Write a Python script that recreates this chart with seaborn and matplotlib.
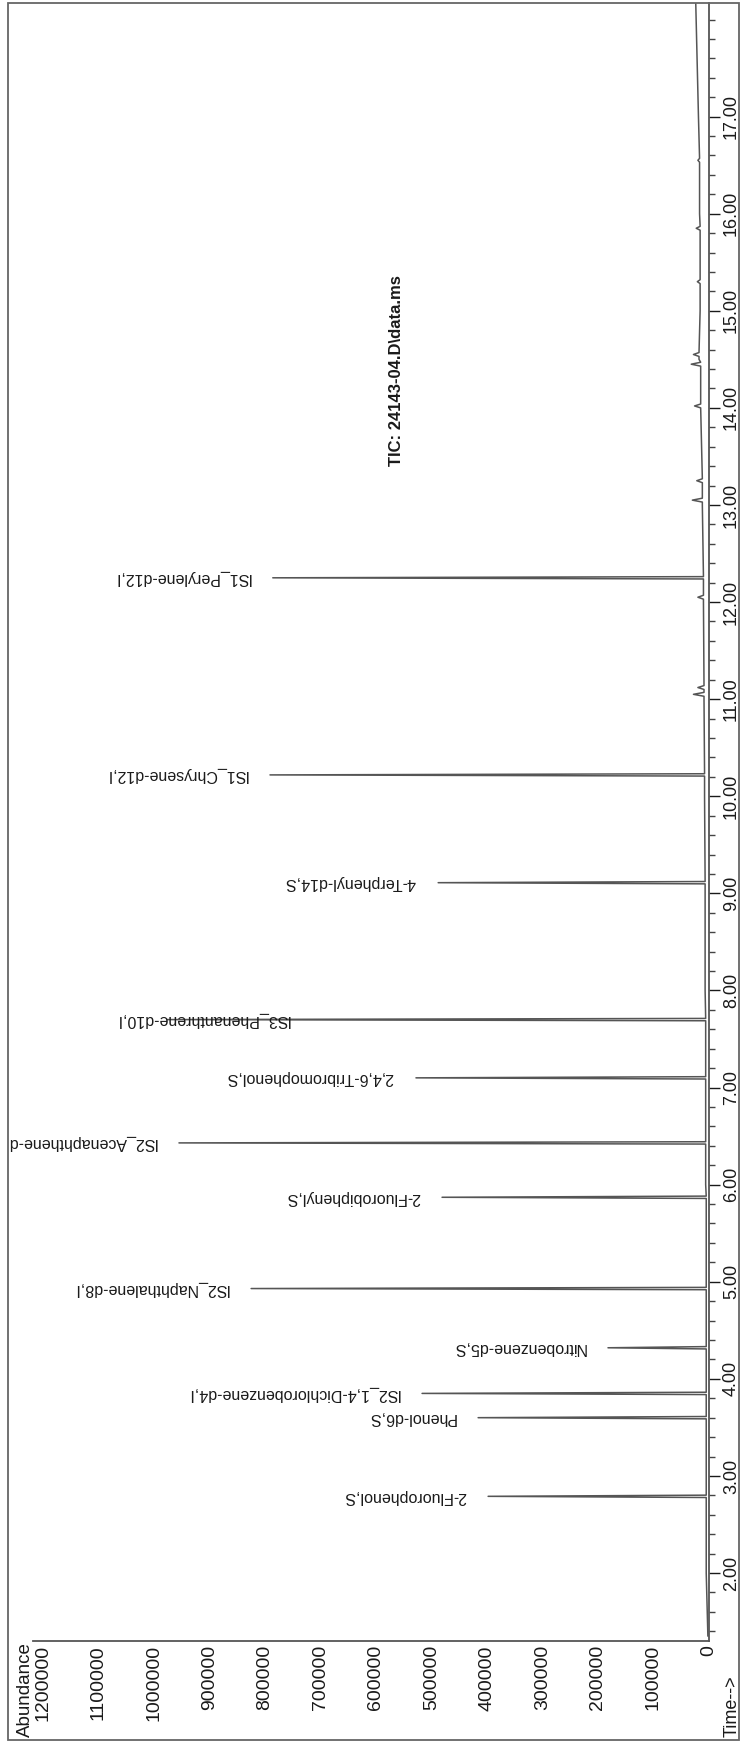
import matplotlib
matplotlib.use("Agg")
import matplotlib.pyplot as plt
import seaborn as sns
from matplotlib.ticker import MultipleLocator
from matplotlib.patches import Rectangle
from matplotlib.transforms import Bbox, TransformedBbox

# peaks (retention time in min, abundance)
peak_names = ["2-Fluorophenol,S", "Phenol-d6,S", "IS2_1,4-Dichlorobenzene-d4,I",
              "Nitrobenzene-d5,S", "IS2_Naphthalene-d8,I", "2-Fluorobiphenyl,S",
              "IS2_Acenaphthene-d10,I", "2,4,6-Tribromophenol,S", "IS3_Phenanthrene-d10,I",
              "4-Terphenyl-d14,S", "IS1_Chrysene-d12,I", "IS1_Perylene-d12,I"]
peak_times = [2.79, 3.60, 3.85, 4.32, 4.93, 5.87, 6.43, 7.10, 7.70, 9.11, 10.22, 12.25]
peak_heights = [398000, 416000, 517000, 182000, 825000, 481000, 955000, 528000,
                977000, 488000, 791000, 786000]

# small bumps in the baseline
blip_times = [11.05, 11.12, 12.05, 13.05, 13.25, 14.02, 14.45, 14.55, 15.30, 15.85, 16.55]
blip_heights = [28000, 20000, 20000, 30000, 22000, 26000, 32000, 28000, 21000, 23000, 20000]

# baseline level along the run
base_times = [1.35, 2.0, 3.0, 4.0, 5.0, 6.0, 7.0, 8.0, 9.0, 10.0, 11.0, 12.0,
              13.0, 14.0, 14.5, 15.0, 16.0, 17.0, 18.2]
base_levels = [2000, 5000, 5000, 5000, 5000, 6000, 6000, 7000, 7000, 8000, 9000, 10000,
               12000, 15000, 18000, 16000, 17000, 19000, 24000]

abund_ticks = [0, 100000, 200000, 300000, 400000, 500000, 600000, 700000,
               800000, 900000, 1000000, 1100000, 1200000]
time_ticks = [2, 3, 4, 5, 6, 7, 8, 9, 10, 11, 12, 13, 14, 15, 16, 17]


def base_at(t):
    # baseline level of the nearest reading before t
    lvl = base_levels[0]
    for bt, bl in zip(base_times, base_levels):
        if bt <= t:
            lvl = bl
    return lvl


def build_trace():
    pts = [(t, b) for t, b in zip(base_times, base_levels)]
    for t, h in zip(peak_times, peak_heights):
        b = base_at(t)
        pts += [(t - 0.012, b), (t, h), (t + 0.012, b)]
    for t, h in zip(blip_times, blip_heights):
        b = base_at(t)
        pts += [(t - 0.02, b), (t, h), (t + 0.02, b)]
    pts.sort()
    return [p[0] for p in pts], [p[1] for p in pts]


sns.set_style("white")
plt.rcParams["font.family"] = ["Liberation Sans", "DejaVu Sans"]

fig = plt.figure(figsize=(7.41, 17.5), dpi=100)
ax = fig.add_axes([33 / 741, 1 - 1641 / 1750, (709 - 33) / 741, (1641 - 3) / 1750])

times, abund = build_trace()
sns.lineplot(x=abund, y=times, sort=False, estimator=None, color="#555555",
             linewidth=1.1, ax=ax)

ax.set_xlim(1218000, 0)
ax.set_ylim(1.30, 18.17)

ax.set_xticks(abund_ticks)
ax.set_xticklabels([str(v) for v in abund_ticks])
ax.tick_params(axis="x", labelrotation=90, length=0, pad=3, labelsize=14, colors="#1a1a1a")

ax.yaxis.tick_right()
ax.set_yticks(time_ticks)
ax.set_yticklabels([f"{t:.2f}" for t in time_ticks])
ax.yaxis.set_minor_locator(MultipleLocator(0.2))
ax.tick_params(axis="y", which="major", labelrotation=90, length=8, width=1,
               pad=2, labelsize=13, colors="#1a1a1a")
ax.tick_params(axis="y", which="minor", length=4, width=1, colors="#444444")
for lab in ax.get_yticklabels():
    lab.set_verticalalignment("center")

for side in ["top", "left"]:
    ax.spines[side].set_visible(False)
for side in ["bottom", "right"]:
    ax.spines[side].set_color("#555555")
    ax.spines[side].set_linewidth(1.3)

# peak labels, upside down like the rotated print-out
clip = TransformedBbox(Bbox([[0.014, 0], [1, 1]]), fig.transFigure)
for name, t, h in zip(peak_names, peak_times, peak_heights):
    if name.startswith("IS3_Phen"):
        txt = ax.annotate(name, xy=(755000, t), ha="right", va="center",
                          rotation=180, fontsize=11.5, color="#1a1a1a")
    else:
        txt = ax.annotate(name, xy=(h, t), xytext=(-16, 0), textcoords="offset points",
                          ha="right", va="center", rotation=180, fontsize=11.5,
                          color="#1a1a1a", annotation_clip=False)
    txt.set_clip_box(clip)
    txt.set_clip_on(True)

fig.text(396 / 741, 1 - 371 / 1750, "TIC: 24143-04.D\\data.ms", rotation=90,
         ha="center", va="center", fontsize=12, fontweight="bold", color="#1a1a1a")
fig.text(25 / 741, 1 - 1690 / 1750, "Abundance", rotation=90, ha="center", va="center",
         fontsize=13.5, color="#1a1a1a")
fig.text(732 / 741, 1 - 1706 / 1750, "Time-->", rotation=90, ha="center", va="center",
         fontsize=13, color="#1a1a1a")

fig.patches.append(Rectangle((8 / 741, 1 - 1740 / 1750), 731 / 741, 1737 / 1750,
                             transform=fig.transFigure, fill=False, lw=1.3,
                             ec="#666666"))

fig.savefig("out.png", dpi=100)
